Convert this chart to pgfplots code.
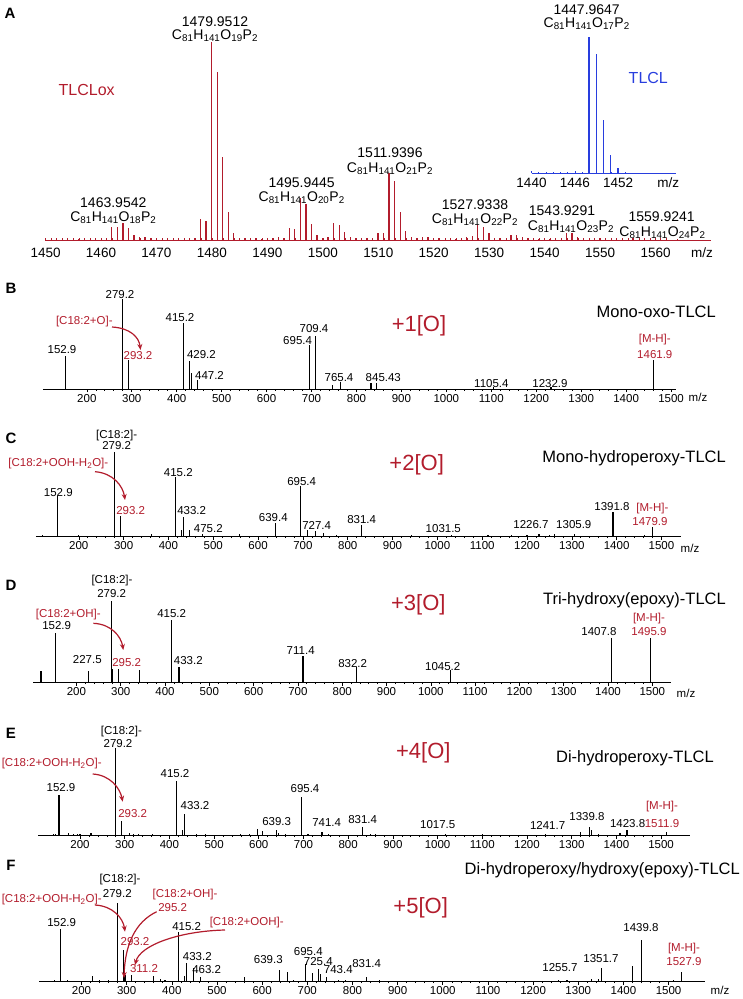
\documentclass[border=0pt]{standalone}
\usepackage{fontspec}
\setmainfont{Liberation Sans}
\usepackage{pgfplots}
\pgfplotsset{compat=1.18}
\usetikzlibrary{arrows.meta}
\definecolor{ox}{RGB}{178,28,44}
\definecolor{tlcl}{RGB}{40,62,222}
\newcommand{\labfont}{\fontsize{11.5}{12}\selectfont}
\newcommand{\numA}{\fontsize{14}{15}\selectfont}
\newcommand{\form}[1]{C\textsubscript{81}H\textsubscript{141}O\textsubscript{#1}P\textsubscript{2}}
\newcommand{\lbl}[3]{\node[font=\labfont,inner sep=0pt] at (#1pt,-#2pt) {#3};}
\newcommand{\rlbl}[3]{\node[font=\labfont,text=ox,inner sep=0pt] at (#1pt,-#2pt) {#3};}
\newcommand{\Alb}[3]{\node[font=\numA,inner sep=0pt] at (#1pt,-#2pt) {#3};}
\newcommand{\plet}[3]{\node[font=\fontsize{15}{16}\selectfont\bfseries,inner sep=0pt] at (#1pt,-#2pt) {#3};}
\newcommand{\ox}[3]{\node[font=\fontsize{22}{24}\selectfont,text=ox,inner sep=0pt] at (#1pt,-#2pt) {#3};}
\newcommand{\name}[3]{\node[font=\fontsize{16.5}{18}\selectfont,anchor=east,inner sep=0pt] at (#1pt,-#2pt) {#3};}
\newcommand{\mz}[2]{\node[font=\fontsize{11.5}{12}\selectfont,inner sep=0pt] at (#1pt,-#2pt) {m/z};}
\pgfplotsset{
  spec/.style={
    scale only axis, anchor=south west,
    axis x line*=bottom, axis y line=none,
    ymin=0, ymax=100, clip=false, ytick=\empty,
    xtick={200,300,...,1500}, minor x tick num=4,
    tick align=outside, major tick length=3pt, minor tick length=1.5pt,
    x axis line style={line width=0.8pt,-},
    every tick/.style={black,line width=0.6pt},
    xticklabel style={font=\fontsize{11.5}{12}\selectfont,inner sep=1pt,yshift=-1pt},
    /pgf/number format/assume math mode=true,
    /pgf/number format/set thousands separator={},
    scaled x ticks=false,
  },
  peaks/.style={ycomb, black, line width=1.1pt, mark=none},
}
\tikzset{redarrow/.style={-{Stealth[length=6pt,width=5pt]}, draw=ox, line width=1.2pt}}
\begin{document}
\begin{tikzpicture}
\useasboundingbox (0,0) rectangle (743pt,-999pt);

% ---------------- A: full scan
\begin{axis}[spec, at={(45pt,-240pt)}, width=666pt, height=198pt,
  xmin=1449.9, xmax=1570, xtick={1450,1460,...,1560}, minor x tick num=9,
  tick align=inside, major tick length=2.5pt, minor tick length=1.8pt,
  x axis line style={ox,line width=1pt},
  every tick/.style={ox,line width=0.6pt},
  xticklabel style={font=\fontsize{13.5}{14}\selectfont,inner sep=1pt,yshift=-6pt}]
\addplot[ycomb, ox, line width=1.3pt, mark=none] coordinates {
(1453.95,0.8) (1455.95,0.6)
(1461.95,6.6) (1462.95,6.4) (1463.95,8.7) (1464.95,6.1) (1465.95,2.5) (1466.95,1.4) (1467.95,1.4) (1468.95,1.0)
(1475.95,0.8) (1476.95,1.2)
(1477.95,10.6) (1478.95,9.7) (1479.95,100) (1480.95,85) (1481.95,42) (1482.95,14.3) (1483.95,3.7) (1484.95,1.2) (1485.95,1.0) (1486.95,1.0) (1487.95,1.0) (1488.95,0.6)
(1490.95,1.2) (1491.95,1.3) (1492.95,1.0)
(1493.95,6.1) (1494.95,5.7) (1495.95,21) (1496.95,18) (1497.95,8.1) (1498.95,2.5) (1499.95,1.2) (1500.95,1.3)
(1501.95,8.4) (1502.95,7.6) (1503.95,4.0) (1504.95,1.5) (1505.95,0.8) (1507.95,1.2) (1508.95,1.2)
(1509.95,3.7) (1510.95,3.4) (1511.95,33.7) (1512.95,29.8) (1513.95,14.3) (1514.95,4.7) (1515.95,1.3) (1516.95,0.8) (1517.95,1.5) (1518.95,1.5) (1519.95,1.0) (1520.95,0.8) (1523.95,0.6) (1524.95,0.8)
(1525.95,1.5) (1526.95,2.0) (1527.95,7.6) (1528.95,6.7) (1529.95,3.4) (1530.95,1.0) (1531.95,0.8)
(1533.95,2.5) (1534.95,2.5) (1535.95,1.5) (1536.95,0.8) (1538.95,0.6) (1540.95,0.6) (1541.95,0.8)
(1543.95,3.4) (1544.95,3.4) (1545.95,1.5) (1546.95,0.8) (1549.95,0.8) (1550.95,0.6) (1552.95,0.6)
(1555.95,1.0) (1559.95,1.2) (1560.95,1.2) (1561.95,0.8) (1563.95,0.6)};
\end{axis}

% ---------------- A: inset TLCL
\begin{axis}[spec, at={(531.5pt,-173.3pt)}, width=144.5pt, height=136pt,
  xmin=1440, xmax=1460, xtick={1440,1446,1452}, minor x tick num=5,
  tick align=inside, major tick length=2.5pt, minor tick length=1.8pt,
  x axis line style={tlcl,line width=1pt},
  every tick/.style={tlcl,line width=0.6pt},
  xticklabel style={font=\fontsize{13.5}{14}\selectfont,inner sep=1pt,yshift=-3pt}]
\addplot[ycomb, tlcl, line width=1.3pt, mark=none] coordinates {
(1447.96,100) (1448.96,88) (1449.97,39) (1450.97,13.5) (1451.97,3.7) (1452.97,1)};
\end{axis}

\plet{10}{13}{A}
\node[font=\fontsize{16}{17}\selectfont,text=ox,inner sep=0pt] at (86.7pt,-90pt) {TLCLox};
\node[font=\fontsize{16}{17}\selectfont,text=tlcl,inner sep=0pt] at (648.3pt,-78.3pt) {TLCL};
\Alb{215}{21.7}{1479.9512}  \Alb{215}{36}{\form{19}}
\Alb{113.3}{202.5}{1463.9542} \Alb{113.3}{217.5}{\form{18}}
\Alb{301.7}{182.5}{1495.9445} \Alb{301.7}{197.5}{\form{20}}
\Alb{390}{153}{1511.9396} \Alb{390}{168.3}{\form{21}}
\Alb{475}{204.5}{1527.9338} \Alb{475}{219.5}{\form{22}}
\Alb{562}{211}{1543.9291} \Alb{571}{227}{\form{23}}
\Alb{661.7}{217}{1559.9241} \Alb{662.5}{232.5}{\form{24}}
\Alb{586.7}{10}{1447.9647} \Alb{586.7}{24}{\form{17}}
\node[font=\fontsize{13.5}{14}\selectfont,inner sep=0pt] at (702pt,-253pt) {m/z};
\node[font=\fontsize{13.5}{14}\selectfont,inner sep=0pt] at (668.3pt,-182.7pt) {m/z};

% ---------------- B
\begin{axis}[spec, at={(43pt,-389pt)}, width=633pt, height=89.7pt, xmin=102.5, xmax=1511]
\addplot[peaks] coordinates {
(152.9,36.8) (279.2,100) (293.2,32) (415.2,74) (429.2,31) (433.2,18) (447.2,10)
(695.4,49) (709.4,59) (746,4) (765.4,7.5) (832.4,7) (845.4,7) (1105.4,2) (1232.9,2) (1461.9,32)};
\end{axis}
\plet{11}{288}{B}
\lbl{120}{294.3}{279.2}
\rlbl{84.3}{321.7}{[C18:2+O]-}
\rlbl{138}{356}{293.2}
\lbl{62}{350}{152.9}
\lbl{180}{317.7}{415.2}
\lbl{314}{329}{709.4}
\lbl{297.6}{340.7}{695.4}
\lbl{201.4}{355}{429.2}
\lbl{209.5}{375}{447.2}
\lbl{339}{377.3}{765.4}
\lbl{383.3}{377.3}{845.43}
\lbl{491.4}{383.3}{1105.4}
\lbl{550}{383.3}{1232.9}
\ox{419}{326}{+1[O]}
\name{716}{311.7}{Mono-oxo-TLCL}
\rlbl{654.8}{340}{[M-H]-}
\rlbl{654.8}{355}{1461.9}
\mz{698}{397}
\draw[redarrow] (112pt,-327pt) .. controls (130pt,-328pt) and (139pt,-337pt) .. (140.5pt,-350pt);

% ---------------- C
\begin{axis}[spec, at={(36pt,-536.7pt)}, width=645pt, height=85pt, xmin=104.5, xmax=1543.6]
\addplot[peaks] coordinates {
(120,2) (152.9,48) (200,2) (279.2,100) (293.2,24.7) (362,3.5) (415.2,70.6) (429.2,8) (433.2,22.7)
(447.2,8) (475.2,3) (558,3.5) (639.4,16.5) (695.4,59.6) (709.4,8) (727.4,6.3) (745,4) (775,2.5)
(831.4,13.7) (942,2) (1031.5,2.5) (1113,2) (1166,2) (1200,2) (1226.7,3) (1250,2.5) (1262,3)
(1305.9,3.5) (1391.8,29) (1462,2) (1479.9,11)};
\end{axis}
\plet{11}{438}{C}
\lbl{116.7}{435.5}{[C18:2]-}
\lbl{116.7}{446}{279.2}
\rlbl{58.3}{463.3}{[C18:2+OOH-H\textsubscript{2}O]-}
\rlbl{130.7}{511}{293.2}
\lbl{178.3}{472.7}{415.2}
\lbl{301.7}{481.7}{695.4}
\lbl{58.3}{492.7}{152.9}
\lbl{191.7}{510.7}{433.2}
\lbl{273.3}{517.3}{639.4}
\lbl{316.7}{525}{727.4}
\lbl{361.7}{520}{831.4}
\lbl{208.3}{528.3}{475.2}
\lbl{443.3}{528.3}{1031.5}
\ox{416.7}{465}{+2[O]}
\name{726}{458.3}{Mono-hydroperoxy-TLCL}
\lbl{612}{506.7}{1391.8}
\rlbl{652.4}{508.3}{[M-H]-}
\rlbl{650}{521.7}{1479.9}
\lbl{531}{525}{1226.7}
\lbl{573.8}{525}{1305.9}
\mz{690}{548}
\draw[redarrow] (95pt,-471.7pt) .. controls (113pt,-473pt) and (123pt,-486pt) .. (125pt,-500pt);

% ---------------- D
\begin{axis}[spec, at={(33pt,-682.7pt)}, width=638pt, height=82pt, xmin=102, xmax=1542.2]
\addplot[peaks] coordinates {
(120,14.6) (152.9,61) (227.5,14.6) (279.2,100) (281.2,17) (295.2,17) (343,15.5) (415.2,76)
(431.2,19) (433.2,19.5) (711.4,32.5) (832.2,18.7) (1045.2,15.5) (1407.8,54) (1495.9,54)};
\end{axis}
\plet{11}{585}{D}
\lbl{112}{581}{[C18:2]-}
\lbl{111.7}{594}{279.2}
\rlbl{68.3}{615}{[C18:2+OH]-}
\lbl{56.7}{626}{152.9}
\rlbl{126.7}{662.7}{295.2}
\lbl{87.3}{660}{227.5}
\lbl{171.7}{614}{415.2}
\lbl{188.3}{661}{433.2}
\lbl{300.7}{650.7}{711.4}
\lbl{352.7}{664}{832.2}
\lbl{442.7}{666.7}{1045.2}
\ox{418.3}{605}{+3[O]}
\name{726}{600}{Tri-hydroxy(epoxy)-TLCL}
\rlbl{649}{618.3}{[M-H]-}
\rlbl{649}{631.7}{1495.9}
\lbl{599}{632}{1407.8}
\mz{686}{693}
\draw[redarrow] (93.3pt,-623.3pt) .. controls (111pt,-624pt) and (121pt,-636pt) .. (123.3pt,-650pt);

% ---------------- E
\begin{axis}[spec, at={(38.3pt,-835.7pt)}, width=651.7pt, height=87.3pt, xmin=106.7, xmax=1564.7]
\addplot[peaks] coordinates {
(140,2) (145,2) (152.9,46.6) (173.7,3.5) (185,2) (195,2) (200,1.5) (224.6,3.5) (279.2,100)
(293.2,16.8) (311,3) (320,2) (330,2) (362,1.5) (415.2,62.6) (429,6.5) (433.2,24.8) (460,1.5)
(480,1.5) (560,1.5) (580,2) (597,7.7) (608,5.7) (639.3,6.5) (645,3) (660,2) (695.4,44) (710,1.5)
(741.4,3.8) (755,2) (831.4,10.3) (850,1.5) (862,1.5) (1017.5,1.5) (1100,1.5) (1241.7,2) (1320,4)
(1339.8,10) (1345,6) (1360,2) (1408,3) (1423.8,6.5) (1511.9,4.6)};
\end{axis}
\plet{11}{733}{E}
\lbl{121.4}{731.7}{[C18:2]-}
\lbl{118}{743.3}{279.2}
\rlbl{51.7}{764}{[C18:2+OOH-H\textsubscript{2}O]-}
\rlbl{132.7}{814}{293.2}
\lbl{175}{773.3}{415.2}
\lbl{61}{787.3}{152.9}
\lbl{305}{788.3}{695.4}
\lbl{195}{806}{433.2}
\lbl{276.7}{821.7}{639.3}
\lbl{326.7}{822.7}{741.4}
\lbl{362.7}{819.3}{831.4}
\lbl{437.7}{824.3}{1017.5}
\ox{423.3}{752.7}{+4[O]}
\name{714}{758.3}{Di-hydroperoxy-TLCL}
\lbl{547.6}{825}{1241.7}
\lbl{587}{816.7}{1339.8}
\lbl{627.6}{823.3}{1423.8}
\rlbl{662}{806.7}{[M-H]-}
\rlbl{662}{823.3}{1511.9}
\draw[redarrow] (92.7pt,-774pt) .. controls (110pt,-775pt) and (120pt,-788pt) .. (122.7pt,-801.7pt);

% ---------------- F
\begin{axis}[spec, at={(39.3pt,-981.7pt)}, width=665.7pt, height=78.4pt, xmin=106.6, xmax=1580.6]
\addplot[peaks] coordinates {
(130,1.5) (140,2) (152.9,67) (170,2.5) (200,1.5) (224,7) (240,2) (260,2) (279.2,100) (293.2,40)
(295.2,12) (297.2,8) (311.2,8.5) (359,7) (375,3) (385,2) (415.2,64) (429,7.3) (433.2,23.5)
(447.2,18) (463.2,5.5) (560,6.4) (639.3,15) (655.6,12.8) (670,2) (695.4,22.6) (711,10.7)
(725.4,15.8) (729,10) (743.4,6.4) (770,2) (785,2.5) (831.4,6.4) (860,2) (880,1.5) (1255.7,2)
(1275,2) (1330,3) (1345,3) (1351.7,17.5) (1420,20) (1439.8,53) (1510,2) (1527.9,13)};
\end{axis}
\plet{11}{865}{F}
\lbl{120}{880}{[C18:2]-}
\lbl{117.3}{893.3}{279.2}
\rlbl{51.7}{900}{[C18:2+OOH-H\textsubscript{2}O]-}
\rlbl{185}{895}{[C18:2+OH]-}
\rlbl{172.7}{907.3}{295.2}
\rlbl{246.7}{922.7}{[C18:2+OOH]-}
\rlbl{135}{941.7}{293.2}
\rlbl{144}{968.3}{311.2}
\lbl{61.7}{922.7}{152.9}
\lbl{186.7}{926.7}{415.2}
\lbl{197.3}{956.7}{433.2}
\lbl{206.7}{969.3}{463.2}
\lbl{268.3}{960}{639.3}
\lbl{308.3}{951.7}{695.4}
\lbl{318.3}{961.7}{725.4}
\lbl{338.3}{970}{743.4}
\lbl{366.7}{964}{831.4}
\ox{420.7}{908.3}{+5[O]}
\name{740}{870}{Di-hydroperoxy/hydroxy(epoxy)-TLCL}
\lbl{641}{928}{1439.8}
\lbl{601}{958.3}{1351.7}
\lbl{560}{967.7}{1255.7}
\rlbl{684}{948.3}{[M-H]-}
\rlbl{684}{961.7}{1527.9}
\mz{720}{990}
\draw[redarrow] (95pt,-905pt) .. controls (113pt,-906pt) and (123pt,-918pt) .. (125pt,-931.7pt);
\draw[redarrow] (156.7pt,-911.7pt) .. controls (135pt,-922pt) and (125pt,-945pt) .. (124pt,-978pt);
\draw[redarrow] (225pt,-930pt) .. controls (180pt,-931pt) and (140pt,-945pt) .. (135pt,-965pt);
\end{tikzpicture}
\end{document}
